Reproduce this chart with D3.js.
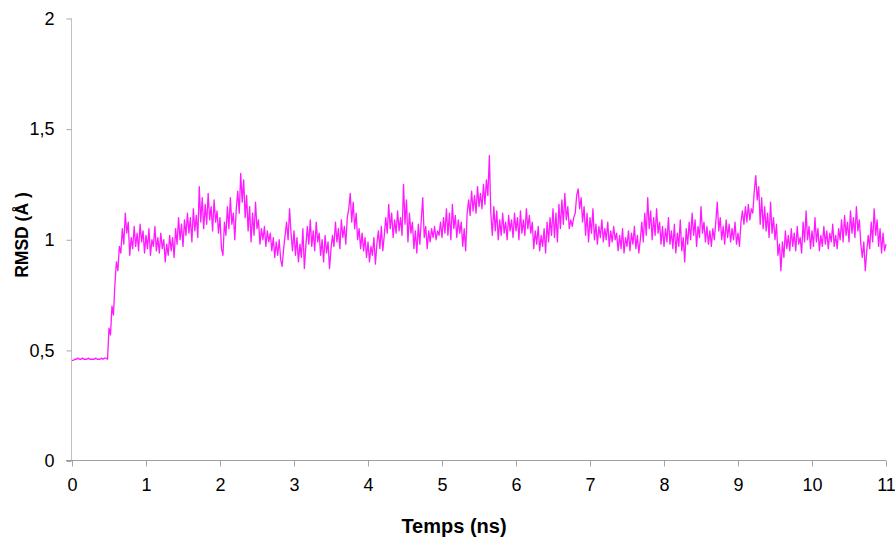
<!DOCTYPE html>
<html>
<head>
<meta charset="utf-8">
<script src="https://cdn.jsdelivr.net/npm/d3@7"></script>
<style>
  html, body { margin: 0; padding: 0; background: #fff; }
  svg { display: block; }
  text { font-family: "Liberation Sans", Arial, sans-serif; fill: #000; }
</style>
</head>
<body>
<svg id="chart" width="895" height="537"></svg>
<script>
// ---- Data ----
const timeStep = 0.02; // ns between samples
const rmsd0 = [0.455,0.455,0.46,0.46,0.465,0.46,0.46,0.465,0.46,0.46,0.46,0.465,0.46,0.46,0.46,0.46,0.465,0.46,0.46,0.46,0.465,0.46,0.465,0.465,0.46,
  0.60,0.57,0.70,0.66,0.80,0.90,0.86,0.97,0.94,1.05,0.98,1.12,1.03,1.08,0.93,1.01,0.96,1.06,0.97,1.03,0.95,1.07,0.99,1.04,0.94];
const rmsd1 = [1.02,0.96,1.05,0.93,1.00,0.97,1.06,0.95,1.01,0.94,1.03,0.96,1.00,0.90,0.98,0.93,1.02,0.95,1.01,0.92,
  1.05,0.98,1.10,1.00,1.07,0.97,1.09,1.02,1.12,1.03,1.10,0.99,1.14,1.04,1.11,1.01,1.24,1.08,1.19,1.05,
  1.16,1.07,1.21,1.09,1.15,1.04,1.18,1.08,1.13,1.03];
const rmsd2 = [1.10,0.96,0.93,1.08,1.02,1.15,1.05,1.19,1.07,1.12,1.00,1.14,1.22,1.12,1.30,1.17,1.27,1.10,1.20,1.04,
  1.15,0.99,1.12,1.02,1.17,1.05,1.09,0.98,1.05,1.00,1.06,0.97,1.04,0.99,1.03,0.95,1.01,0.92,0.99,0.93,
  1.00,0.91,0.88,0.96,1.02,1.08,1.00,1.14,1.03,0.95];
const rmsd3 = [1.04,0.93,1.01,0.90,0.98,0.92,1.05,0.87,0.97,1.06,0.98,1.09,0.97,1.04,0.95,1.08,0.99,1.03,0.93,1.00,
  0.90,1.02,0.94,0.99,0.87,0.96,1.02,0.97,1.08,0.99,1.05,0.96,1.09,1.01,1.06,0.98,1.10,1.14,1.21,1.08,
  1.17,1.05,1.12,1.00,1.05,0.96,1.03,0.95,1.01,0.92];
const rmsd4 = [0.99,0.90,0.97,0.93,1.01,0.89,0.98,1.04,0.96,1.06,0.95,1.02,1.10,1.03,1.16,1.05,1.12,1.01,1.09,1.03,
  1.13,1.04,1.10,1.02,1.25,1.07,1.18,0.99,1.12,1.03,1.08,0.96,1.04,0.94,1.07,0.98,1.09,1.19,1.01,1.06,
  0.96,1.04,0.99,1.05,1.01,1.06,1.00,1.04,1.02,1.08];
const rmsd5 = [1.01,1.10,1.03,1.14,1.02,1.12,1.00,1.16,1.05,1.11,1.01,1.09,1.03,1.08,0.97,1.05,0.95,1.12,1.18,1.11,
  1.22,1.13,1.20,1.12,1.24,1.15,1.21,1.14,1.25,1.16,1.27,1.20,1.38,1.12,1.02,1.15,1.04,1.13,1.00,1.09,
  1.02,1.12,1.03,1.08,1.00,1.11,1.04,1.09,1.01,1.12];
const rmsd6 = [1.04,1.10,1.00,1.13,1.03,1.09,1.02,1.14,1.05,1.11,1.03,1.08,0.96,1.04,0.98,1.06,0.95,1.02,0.97,1.05,
  0.94,1.08,0.99,1.10,1.02,1.14,1.01,1.12,0.99,1.16,1.05,1.18,1.07,1.21,1.09,1.15,1.05,1.09,1.06,1.10,
  1.12,1.20,1.23,1.14,1.19,1.08,1.15,1.02,1.12,0.99];
const rmsd7 = [1.10,1.03,1.14,1.00,1.07,0.98,1.06,1.01,1.09,0.99,1.05,1.00,1.08,0.97,1.04,0.99,1.06,1.00,1.03,0.95,
  1.02,0.96,1.05,0.94,1.01,0.97,1.04,0.95,1.03,0.98,1.06,0.96,1.02,0.94,1.00,1.08,0.99,1.12,1.02,1.19,
  1.05,1.13,1.00,1.10,1.02,1.14,1.03,1.08,0.98,1.06];
const rmsd8 = [0.97,1.05,0.99,1.10,0.98,1.04,0.96,1.07,0.94,1.03,0.97,1.09,0.95,1.01,0.90,1.05,0.98,1.08,1.00,1.12,
  1.02,1.09,0.97,1.06,1.01,1.15,1.03,1.08,0.99,1.06,0.98,1.04,0.97,1.05,1.00,1.08,1.17,1.04,1.10,1.00,
  1.06,0.98,1.09,1.01,1.07,0.99,1.05,1.00,1.08,0.98];
const rmsd9 = [1.03,0.97,1.08,1.13,1.07,1.15,1.08,1.16,1.09,1.14,1.12,1.22,1.29,1.18,1.24,1.07,1.19,1.05,1.15,1.04,
  1.12,1.01,1.17,1.03,1.10,1.00,1.07,0.93,0.98,0.86,0.99,0.92,1.04,0.96,1.02,0.95,1.05,0.97,1.03,0.95,
  1.06,0.98,1.01,0.94,1.08,0.99,1.13,1.00,1.06,0.96];
const rmsd10 = [1.04,0.97,1.10,0.99,1.05,0.95,1.02,0.97,1.06,0.98,1.04,0.96,1.03,0.99,1.07,0.97,1.02,0.96,1.05,1.00,
  1.09,0.99,1.11,1.02,1.08,0.99,1.13,1.03,1.10,1.01,1.15,1.04,1.09,0.98,0.92,0.99,0.86,0.95,1.02,0.96,
  1.08,0.99,1.14,1.02,1.09,0.97,1.05,0.94,1.03,0.95,0.98];

const rmsd = [].concat(rmsd0, rmsd1, rmsd2, rmsd3, rmsd4, rmsd5, rmsd6, rmsd7, rmsd8, rmsd9, rmsd10);
const xTicks = [0,1,2,3,4,5,6,7,8,9,10,11];
const yTicks = [0, 0.5, 1, 1.5, 2];
const yTickLabels = ["0", "0,5", "1", "1,5", "2"];
const xTitle = "Temps (ns)";
const yTitle = "RMSD (Å )";

// ---- Chart ----
const svg = d3.select("#chart");
const x = d3.scaleLinear().domain([0, 11]).range([72, 886]);
const y = d3.scaleLinear().domain([0, 2]).range([461, 18.5]);

// Y axis
const yAxis = svg.append("g")
  .attr("transform", "translate(71.5,0)")
  .call(d3.axisLeft(y).tickValues(yTicks).tickFormat((d, i) => yTickLabels[i]).tickSize(5).tickPadding(12));
yAxis.select(".domain").attr("stroke", "#c0c0c0").attr("d", `M0,${y(2)}V${y(0)}`);
yAxis.selectAll(".tick line").attr("stroke", "#a6a6a6");
yAxis.selectAll(".tick text").style("font-size", "18px").attr("fill", "#000");

// X axis
const xAxis = svg.append("g")
  .attr("transform", "translate(0,460.5)")
  .call(d3.axisBottom(x).tickValues(xTicks).tickFormat(d3.format("d")).tickSize(6).tickPadding(12));
xAxis.select(".domain").attr("stroke", "#a0a0a0").attr("d", `M${x(0) - 6},0H${x(11)}`);
xAxis.selectAll(".tick line").attr("stroke", "#a6a6a6");
xAxis.selectAll(".tick text").style("font-size", "18px").attr("fill", "#000");

// Line
const line = d3.line()
  .x((d, i) => x(i * timeStep))
  .y(d => y(d));
svg.append("path")
  .datum(rmsd)
  .attr("fill", "none")
  .attr("stroke", "#ff1aff")
  .attr("stroke-width", 1.3)
  .attr("stroke-linejoin", "round")
  .attr("d", line);

// Titles
svg.append("text")
  .attr("x", 454).attr("y", 533)
  .attr("text-anchor", "middle")
  .style("font-size", "20px").style("font-weight", "bold")
  .text(xTitle);
svg.append("text")
  .attr("transform", "translate(28,235) rotate(-90)")
  .attr("text-anchor", "middle")
  .style("font-size", "17.5px").style("font-weight", "bold")
  .text(yTitle);
</script>
</body>
</html>
